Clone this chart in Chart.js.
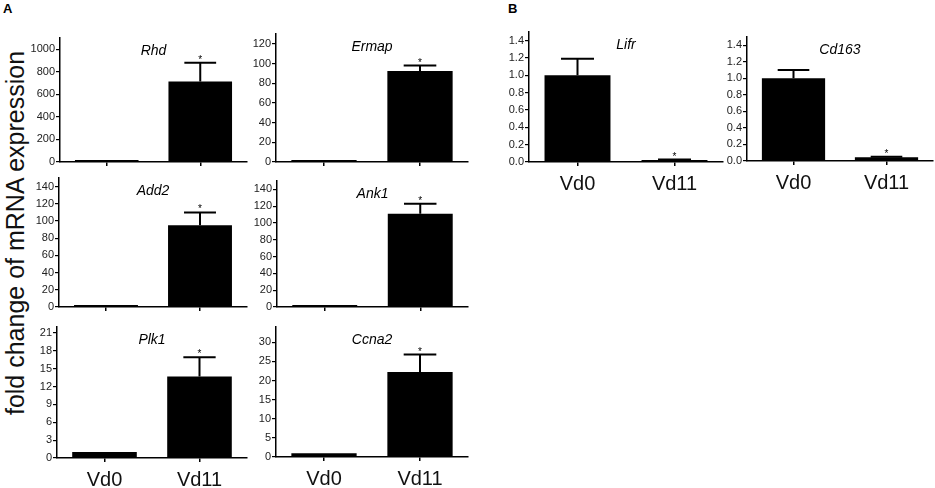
<!DOCTYPE html>
<html>
<head>
<meta charset="utf-8">
<script src="https://cdn.jsdelivr.net/npm/chart.js@4.4.0/dist/chart.umd.min.js"></script>
<style>
  body { margin: 0; background: #fff; width: 935px; height: 488px; position: relative; overflow: hidden;
         font-family: "Liberation Sans", Arial, sans-serif; }
  canvas { position: absolute; }
  .letter { position: absolute; font-weight: bold; font-size: 13px; color: #000; }
  .ylab { position: absolute; left: -185px; top: 218px; width: 400px; height: 30px; line-height: 30px;
          text-align: center; font-size: 25px; color: #111; transform: rotate(-90deg); }
</style>
</head>
<body>
<div class="letter" style="left:3px;top:1px">A</div>
<div class="letter" style="left:508px;top:1px">B</div>
<div class="ylab">fold change of mRNA expression</div>

<script>
// data
var categories = ['Vd0', 'Vd11'];
var genes = ['Rhd', 'Ermap', 'Add2', 'Ank1', 'Plk1', 'Ccna2', 'Lifr', 'Cd163'];

var rhdMean = [1, 715],     rhdErr = [0, 165];
var ermapMean = [1, 92.5],  ermapErr = [0, 5.5];
var add2Mean = [1, 95],     add2Err = [0, 15];
var ank1Mean = [1, 111],    ank1Err = [0, 12];
var plk1Mean = [1.0, 13.7], plk1Err = [0, 3.2];
var ccna2Mean = [1.0, 22.2], ccna2Err = [0, 4.6];
var lifrMean = [1.0, 0.022], lifrErr = [0.19, 0.006];
var cd163Mean = [1.0, 0.045], cd163Err = [0.10, 0.005];

var significant = [false, true];

// y axis ranges / steps
var yMax  = [1100, 130, 150, 150, 22, 34, 1.5, 1.5];
var yStep = [200, 20, 20, 20, 3, 5, 0.2, 0.2];
var yDecimals = [0, 0, 0, 0, 0, 0, 1, 1];

var means = [rhdMean, ermapMean, add2Mean, ank1Mean, plk1Mean, ccna2Mean, lifrMean, cd163Mean];
var errs  = [rhdErr, ermapErr, add2Err, ank1Err, plk1Err, ccna2Err, lifrErr, cd163Err];

// plot areas on the page: left, top, right, bottom
var areas = [
    [60, 38, 247, 162],
    [276, 34, 468, 162],
    [59, 178, 247, 307],
    [277, 181, 468, 307],
    [57, 327, 247, 458],
    [276, 327, 468, 457],
    [529, 32, 723, 162],
    [747, 37, 933, 161]
];
var showXLabels = [false, false, false, false, true, true, true, true];

var FONT = '"Liberation Sans", Arial, sans-serif';
var Y_W = 40, PAD_T = 10, PAD_R = 4;

// error bars, asterisks and the gene name
var errorBars = {
    id: 'errorBars',
    afterDatasetsDraw: function(chart) {
        var p = chart.canvas.panel;
        var ctx = chart.ctx;
        var y = chart.scales.y;
        var area = chart.chartArea;
        var meta = chart.getDatasetMeta(0);
        ctx.save();
        ctx.strokeStyle = '#000';
        ctx.fillStyle = '#000';
        ctx.lineWidth = 2;
        meta.data.forEach(function(bar, i) {
            var top = y.getPixelForValue(p.mean[i] + p.err[i]);
            var half = bar.width / 4;
            if (p.err[i] > 0) {
                ctx.beginPath();
                ctx.moveTo(bar.x, bar.y);
                ctx.lineTo(bar.x, top);
                ctx.moveTo(bar.x - half, top);
                ctx.lineTo(bar.x + half, top);
                ctx.stroke();
            }
            if (significant[i]) {
                ctx.font = '10px ' + FONT;
                ctx.textAlign = 'center';
                ctx.textBaseline = 'alphabetic';
                ctx.fillText('*', bar.x, Math.min(top, bar.y));
            }
        });
        ctx.font = 'italic 14px ' + FONT;
        ctx.textAlign = 'center';
        ctx.textBaseline = 'middle';
        ctx.fillText(p.gene, (area.left + area.right) / 2, area.top + 13);
        ctx.restore();
    }
};

genes.forEach(function(gene, k) {
    var a = areas[k];
    var xH = showXLabels[k] ? 36 : 8;
    var cv = document.createElement('canvas');
    cv.width = (a[2] - a[0]) + Y_W + PAD_R;
    cv.height = (a[3] - a[1]) + PAD_T + xH;
    cv.style.left = (a[0] - Y_W) + 'px';
    cv.style.top = (a[1] - PAD_T) + 'px';
    cv.panel = {gene: gene, mean: means[k], err: errs[k]};
    document.body.appendChild(cv);

    new Chart(cv, {
        type: 'bar',
        data: {
            labels: categories,
            datasets: [{
                data: means[k],
                backgroundColor: '#000',
                borderWidth: 0,
                minBarLength: 2,
                barPercentage: 0.68,
                categoryPercentage: 1
            }]
        },
        options: {
            responsive: false,
            animation: false,
            events: [],
            layout: {padding: {top: PAD_T, right: PAD_R, left: 0, bottom: 0}},
            plugins: {legend: {display: false}, tooltip: {enabled: false}},
            scales: {
                x: {
                    offset: true,
                    grid: {display: true, drawOnChartArea: false, drawTicks: true, tickLength: 4,
                           offset: false, color: '#000', lineWidth: 1.5},
                    border: {display: true, color: '#000', width: 1.5},
                    ticks: {display: showXLabels[k], color: '#111', padding: 6,
                            font: {family: FONT, size: 20}},
                    afterFit: function(s) { s.height = xH; }
                },
                y: {
                    min: 0,
                    max: yMax[k],
                    grid: {display: true, drawOnChartArea: false, drawTicks: true, tickLength: 4,
                           color: '#000', lineWidth: 1.2},
                    border: {display: true, color: '#000', width: 1.5},
                    ticks: {
                        stepSize: yStep[k],
                        includeBounds: false,
                        color: '#222',
                        padding: 1,
                        font: {family: FONT, size: 11},
                        callback: function(v) { return Number(v).toFixed(yDecimals[k]); }
                    },
                    afterFit: function(s) { s.width = Y_W; }
                }
            }
        },
        plugins: [errorBars]
    });
});
</script>
</body>
</html>
